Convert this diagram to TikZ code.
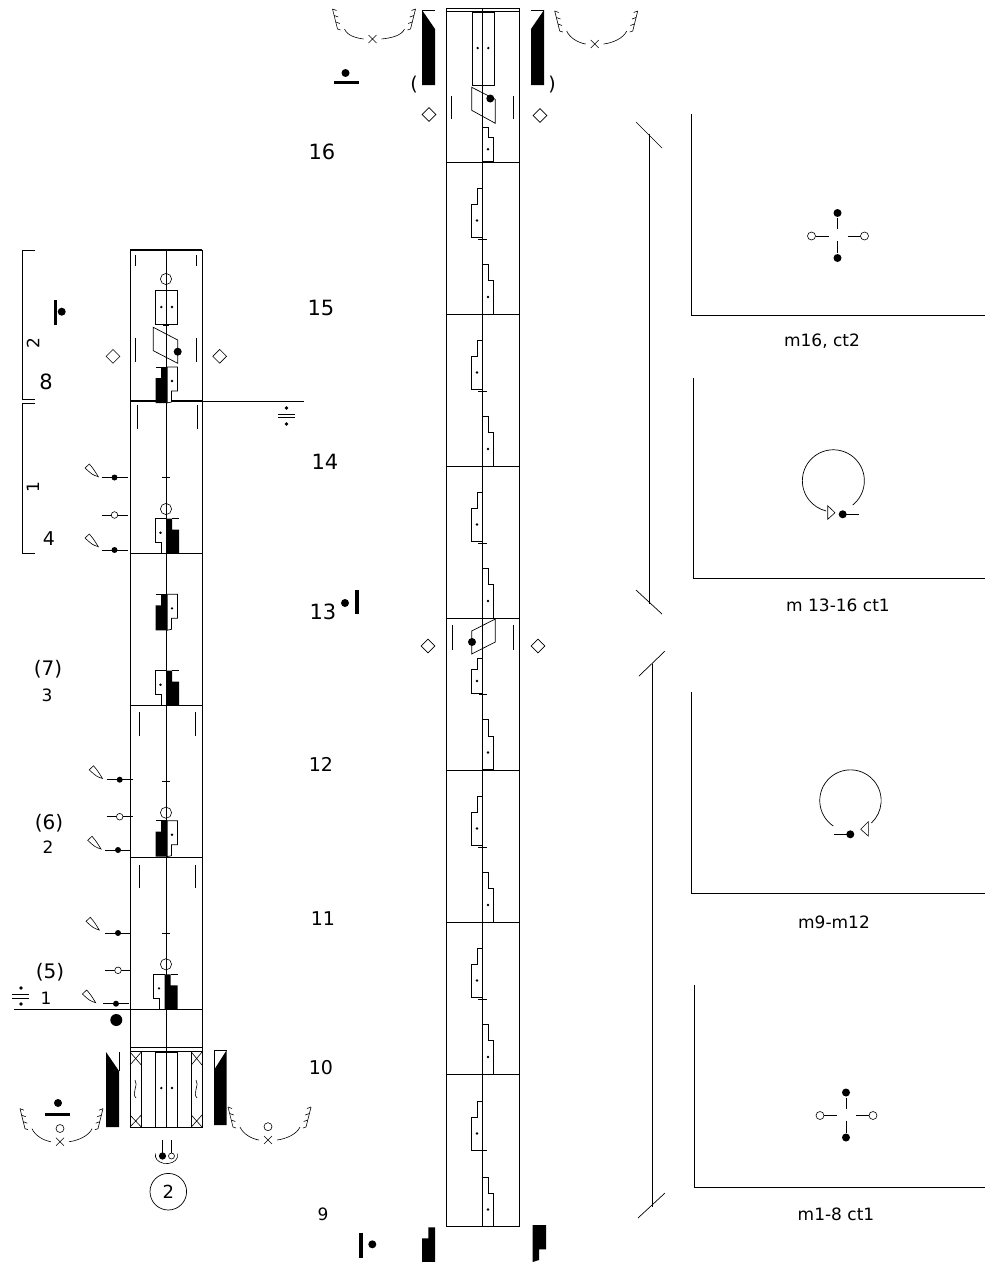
\documentclass[tikz,border=0pt]{standalone}
\usepackage{fontspec}
\setmainfont{DejaVu Sans}
\usetikzlibrary{shapes.geometric}
\tikzstyle{barnum} = [
    font=\fontsize{21}{21}\selectfont,
    yshift=-1pt,
    inner sep=0pt
]
\tikzstyle{smallnum} = [
    font=\fontsize{19}{19}\selectfont,
    yshift=-1pt,
    inner sep=0pt
]
\tikzstyle{beatnum} = [
    font=\fontsize{20}{20}\selectfont,
    yshift=-1pt,
    inner sep=0pt
]
\tikzstyle{countnum} = [
    font=\fontsize{17}{17}\selectfont,
    yshift=-1pt,
    inner sep=0pt
]
\tikzstyle{caption} = [
    font=\fontsize{17}{17}\selectfont,
    yshift=-1pt,
    inner sep=0pt
]
\tikzstyle{gem} = [
    diamond,
    draw=black,
    line width=0.6pt,
    minimum width=14pt,
    minimum height=14pt,
    inner sep=0pt
]
\tikzstyle{staff} = [line width=0.9pt]
\tikzstyle{thin} = [line width=0.6pt]
\newcommand{\bdot}[3]{\fill ({#1},{#2}) circle[radius=#3];}
\newcommand{\wdot}[3]{\draw[thin,fill=white] ({#1},{#2}) circle[radius=#3];}
\newcommand{\smalldot}[2]{\fill ({#1},{#2}) circle[radius=1.3];}
% white support symbols with a dot
\newcommand{\supL}[4]{
    \draw (#1,#2) -- ({#1-5.5},#2) -- ({#1-5.5},#3) -- ({#1-11},#3) -- ({#1-11},#4) -- (#1,#4);
    \smalldot{#1-5.5}{(#3+#4)/2}
}
\newcommand{\supR}[4]{
    \draw (#1,#2) -- ({#1+5.5},#2) -- ({#1+5.5},#3) -- ({#1+11},#3) -- ({#1+11},#4) -- (#1,#4) -- cycle;
    \smalldot{#1+5.5}{(#3+#4)/2}
}
% black left, white right
\newcommand{\pairA}[2]{
    \draw[fill=white] (#1,#2) -- ({#1+11},#2) -- ({#1+11},{#2+24}) -- ({#1+5},{#2+24}) -- ({#1+5},{#2+35}) -- (#1,{#2+36});
    \fill ({#1-11},{#2+11}) -- ({#1-5.5},{#2+11}) -- ({#1-5.5},#2) -- ({#1+1},#2) -- ({#1+1},{#2+36}) -- ({#1-11},{#2+36}) -- cycle;
    \draw[thin] ({#1-11},#2) -- (#1,#2);
    \smalldot{#1+5.5}{#2+14}
}
% white left, black right
\newcommand{\pairB}[2]{
    \draw[fill=white] (#1,#2) -- ({#1-11},#2) -- ({#1-11},{#2+24}) -- ({#1-5},{#2+24}) -- ({#1-5},{#2+35});
    \fill (#1,#2) -- ({#1+6},#2) -- ({#1+6},{#2+11}) -- ({#1+13},{#2+11}) -- ({#1+13},{#2+35}) -- (#1,{#2+35}) -- cycle;
    \draw[thin] ({#1+6},#2) -- ({#1+13},#2);
    \smalldot{#1-5.5}{#2+14}
}
\newcommand{\handwedge}[2]{
    \draw[thin] (#1,#2) .. controls ({#1-6},{#2-2}) .. ({#1-13.3},{#2-8.7}) -- ({#1-9},{#2-12.7}) .. controls ({#1-5},{#2-8}) .. cycle;
}
\newcommand{\pinrow}[2]{\draw[thin] ({#1-13},#2) -- ({#1+13},#2);}
\newcommand{\limbticks}[4]{
    \draw[thin] (#1,#2) -- (#1,#3);
    \draw[thin] (#4,#2) -- (#4,#3);
}
% curved floor hook with a cross
\newcommand{\leghook}[3]{
    \draw[thin] ({#1-4},{#2-4}) -- ({#1+4},{#2+4}) ({#1-4},{#2+4}) -- ({#1+4},{#2-4});
    \draw[thin] ({#1-28},{#2-10-#3}) .. controls ({#1-25},{#2-3-#3}) and ({#1-16},{#2-1}) .. ({#1-9},{#2});
    \draw[thin] ({#1+9},{#2}) .. controls ({#1+18},{#2-1}) and ({#1+29},{#2-3-#3}) .. ({#1+32},{#2-10-#3});
    \draw[thin] ({#1-40},{#2-30-#3}) -- ({#1-35},{#2-10-#3});
    \draw[thin] ({#1-40},{#2-30-#3}) -- ({#1-36},{#2-28.5-#3})
        ({#1-38.3},{#2-23.5-#3}) -- ({#1-34.3},{#2-22-#3})
        ({#1-36.7},{#2-17-#3}) -- ({#1-32.7},{#2-15.5-#3})
        ({#1-35},{#2-10-#3}) -- ({#1-32},{#2-9-#3});
    \draw[thin] ({#1+43},{#2-30-#3}) -- ({#1+38},{#2-10-#3});
    \draw[thin] ({#1+43},{#2-30-#3}) -- ({#1+39},{#2-28.5-#3})
        ({#1+41.3},{#2-23.5-#3}) -- ({#1+37.3},{#2-22-#3})
        ({#1+39.7},{#2-17-#3}) -- ({#1+35.7},{#2-15.5-#3})
        ({#1+38},{#2-10-#3}) -- ({#1+35},{#2-9-#3});
}
\newcommand{\fourpins}[2]{
    \draw[thin] (#1,{#2-18}) -- (#1,{#2-7}) (#1,{#2+5}) -- (#1,{#2+17});
    \draw[thin] ({#1-22},#2) -- ({#1-9},#2) ({#1+10},#2) -- ({#1+23},#2);
    \bdot{#1}{#2-23}{4}
    \bdot{#1}{#2+22}{4}
    \wdot{#1-26}{#2}{4}
    \wdot{#1+27}{#2}{4}
}

\begin{document}
\begin{tikzpicture}[x=1pt,y=-1pt,line width=0.7pt]
\useasboundingbox (0,0) rectangle (985,1262);

% left staff
\draw [staff] (130,250) rectangle (202,1127);
\draw [staff] (166,250) -- (166,1127);
\draw [line width=1.2pt] (130,250) -- (202,250);
\draw [line width=1.2pt] (130,401) -- (202,401);
\draw [thin] (202,401) -- (304,401);
\draw [staff] (130,553) -- (202,553);
\draw [staff] (130,705) -- (202,705);
\draw [staff] (130,857) -- (202,857);
\draw [staff] (14,1009) -- (202,1009);
\draw [staff] (130,1047) -- (202,1047);
\draw [staff] (130,1051) -- (202,1051);

% measure 8
\limbticks{135.7}{255}{266}{196.7}
\limbticks{135.7}{338}{362}{196.7}
\draw [thin] (166,279) circle[radius=5.6];
\draw (155.3,290) rectangle (177.7,324.3);
\smalldot{161.3}{307}
\smalldot{172}{307}
\draw [line width=1.4pt] (163,325) -- (169,325);
\draw (153.3,327.3) -- (177.7,340) -- (177.7,363.3) -- (153.3,350.7) -- cycle;
\bdot{177.7}{351.7}{4}
\node (gemA) [gem] at (113,356.3) {};
\node (gemB) [gem] at (219.7,356.3) {};
\pairA{166.5}{367}

% measure 1..4 of left staff
\limbticks{137.3}{405}{429}{197}
\handwedge{98.3}{476.7}
\pinrow{114.5}{477.5}
\bdot{114.5}{477.5}{3}
\pinrow{114.5}{515}
\wdot{114.5}{515}{3.3}
\handwedge{98.3}{546.7}
\pinrow{114.5}{550}
\bdot{114.5}{550}{3}
\draw [thin] (162,477.5) -- (170,477.5);
\draw [thin] (166,509) circle[radius=5.6];
\pairB{166}{518.7}

\pairA{166.5}{594.3}
\pairB{166}{670.7}

\limbticks{139}{712}{736}{195.3}
\handwedge{102.5}{778.5}
\pinrow{119.7}{779.7}
\bdot{119.7}{779.7}{3}
\pinrow{119.7}{816.7}
\wdot{119.7}{816.7}{3.3}
\handwedge{101}{849}
\pinrow{118}{850}
\bdot{118}{850}{3}
\draw [thin] (162,781) -- (170,781);
\draw [thin] (166,812.7) circle[radius=5.6];
\pairA{166.5}{820.7}

\limbticks{139}{865}{888}{195.3}
\handwedge{99.3}{930}
\pinrow{118}{933}
\bdot{118}{933}{3}
\pinrow{118}{970.3}
\wdot{118}{970.3}{3.3}
\handwedge{95.7}{1002.7}
\pinrow{116}{1003.7}
\bdot{116}{1003.7}{3}
\draw [thin] (162,933) -- (170,933);
\draw [thin] (166,964.3) circle[radius=5.6];
\pairB{164.5}{974.3}
\bdot{116.3}{1020}{6}

% start of left staff
\draw (155.3,1052.5) rectangle (177.7,1127);
\smalldot{161.3}{1088}
\smalldot{172}{1088}
\draw (141.3,1052) -- (141.3,1127);
\draw (191.3,1052) -- (191.3,1127);
\draw [thin] (130,1052) -- (141.3,1065) (141.3,1052) -- (130,1065);
\draw [thin] (130,1115) -- (141.3,1127) (141.3,1115) -- (130,1127);
\draw [thin] (191.3,1052) -- (202,1065) (202,1052) -- (191.3,1065);
\draw [thin] (191.3,1115) -- (202,1127) (202,1115) -- (191.3,1127);
\draw [thin] (135,1080) .. controls (139,1085) and (131,1093) .. (136,1098);
\draw [thin] (196,1080) .. controls (200,1085) and (192,1093) .. (197,1098);
\fill (106,1052) -- (119,1071) -- (119,1127) -- (106,1127) -- cycle;
\fill (226.7,1050) -- (226.7,1125) -- (214,1125) -- (214,1070) -- cycle;
\draw [thin] (214,1070) -- (214,1050) -- (226.7,1050);
\draw [thin] (119,1071) -- (119,1052);
\leghook{60}{1141.7}{3}
\wdot{60}{1128.5}{4}
\draw [line width=3pt] (45,1114.5) -- (70,1114.5);
\bdot{58}{1103}{4}
\leghook{268}{1140}{3}
\wdot{268}{1126.7}{4}
\draw [thin] (162.5,1140) -- (162.5,1153) (171.5,1140) -- (171.5,1153);
\draw [thin] (155.7,1153.5) arc[start angle=195, end angle=-15, x radius=11.2, y radius=8];
\bdot{162.5}{1156}{3.6}
\wdot{171.5}{1156}{3}
\node (num2) [circle, draw=black, line width=0.7pt, minimum size=36.6pt, inner sep=0pt, font=\fontsize{18}{18}\selectfont] at (168.3,1191.7) {2};

% brackets of the left staff
\draw (35,250) -- (22,250) -- (22,399) -- (35,399);
\draw (35,403) -- (22,403) -- (22,553) -- (35,553);
\node (brtwo) [countnum, rotate=90] at (33,342) {2};
\node (brone) [countnum, rotate=90] at (33,486) {1};
\node (ct8) [barnum] at (46,381) {8};
\node (ct4) [smallnum] at (49,538) {4};
\node (ct7) [beatnum] at (48,668) {(7)};
\node (ct3) [countnum] at (47,694) {3};
\node (ct6) [beatnum] at (49,822) {(6)};
\node (ct2) [countnum] at (48,846) {2};
\node (ct5) [beatnum] at (50,971) {(5)};
\node (ct1) [countnum] at (46,997) {1};

% rests
\draw [line width=3.6pt] (55.5,300) -- (55.5,325);
\bdot{61.7}{311.7}{4}
\draw [thin] (278,414) -- (295,414) (278,417.7) -- (295,417.7);
\bdot{286.5}{408}{1.8}
\bdot{286.5}{424}{1.8}
\draw [thin] (12,994) -- (29,994) (12,998) -- (29,998);
\bdot{21}{988}{1.8}
\bdot{21}{1004}{1.8}

% measure numbers
\node (m16) [barnum] at (322,151) {16};
\node (m15) [barnum] at (321,307) {15};
\node (m14) [barnum] at (325,461) {14};
\node (m13) [barnum] at (323,611) {13};
\node (m12) [smallnum] at (321,763) {12};
\node (m11) [smallnum] at (323,918) {11};
\node (m10) [smallnum] at (321,1067) {10};
\node (m9) [countnum] at (323,1213) {9};
\bdot{345}{603}{4}
\draw [line width=3.6pt] (357,590) -- (357,614);

% middle staff
\draw [staff] (446,8) rectangle (519,1226);
\draw [staff] (482.5,8) -- (482.5,1226);
\draw [staff] (446,11) -- (519,11);
\draw [staff] (446,162) -- (519,162);
\draw [staff] (446,314) -- (519,314);
\draw [staff] (446,466) -- (519,466);
\draw [staff] (446,618) -- (519,618);
\draw [staff] (446,770) -- (519,770);
\draw [staff] (446,922) -- (519,922);
\draw [staff] (446,1074) -- (519,1074);

% measure 16
\draw (472.3,12.7) rectangle (494,85.7);
\smalldot{477.7}{48}
\smalldot{488.3}{48}
\draw (471.7,87.3) -- (495.3,99.3) -- (495.3,123.3) -- (471.7,110.3) -- cycle;
\bdot{490.3}{98.5}{4}
\limbticks{451.7}{96}{119}{513}
\node (gemC) [gem] at (429,114.5) {};
\node (gemD) [gem] at (540,115.5) {};
\supR{482.5}{127}{137}{161.5}
\node (parenL) [smallnum] at (414,84) {(};
\node (parenR) [smallnum] at (552,84) {)};

% repeated measures
\supL{482.5}{188}{204}{237}
\draw [thin] (478,239) -- (487,239);
\supR{482.5}{264}{280}{314}
\supL{482.5}{340}{356}{389}
\draw [thin] (478,391) -- (487,391);
\supR{482.5}{416}{432}{466}
\supL{482.5}{492}{508}{541}
\draw [thin] (478,543) -- (487,543);
\supR{482.5}{568}{584}{618}

% measure 12/13 boundary
\draw (471.7,631) -- (495.3,619) -- (495.3,642) -- (471.7,654) -- cycle;
\bdot{472}{642}{4}
\limbticks{452}{625}{650}{513}
\node (gemE) [gem] at (428,646) {};
\node (gemF) [gem] at (538,646) {};
\supL{482.5}{658}{669}{693}
\draw [thin] (479,694.5) -- (487,694.5);
\supR{482.5}{719}{736}{769}

\supL{482.5}{796}{812}{845}
\draw [thin] (478,847) -- (487,847);
\supR{482.5}{872}{888}{922}
\supL{482.5}{948}{964}{997}
\draw [thin] (478,999) -- (487,999);
\supR{482.5}{1024}{1040}{1074}
\supL{482.5}{1101}{1117}{1150}
\draw [thin] (478,1150) -- (487,1150);
\supR{482.5}{1177}{1193}{1226}

% black columns, top and bottom of middle staff
\fill (422,10) -- (435,29) -- (435,85) -- (422,85) -- cycle;
\draw [thin] (422,10) -- (435,10);
\fill (544,10) -- (544,85) -- (531,85) -- (531,29) -- cycle;
\draw [thin] (531,10) -- (544,10);
\leghook{372.5}{39}{0}
\leghook{594.7}{44}{3}
\bdot{345.5}{73}{4}
\draw [line width=3.2pt] (334,82.5) -- (359,82.5);
\fill (422,1238.3) -- (428.3,1238.3) -- (428.3,1227.3) -- (435,1227.3) -- (435,1262) -- (422,1262) -- cycle;
\fill (532.7,1225) -- (546,1225) -- (546,1249.3) -- (539,1249.3) -- (539,1260) -- (532.7,1262) -- cycle;
\draw [line width=3.6pt] (361,1232.7) -- (361,1258);
\bdot{372.3}{1244.3}{4}

% long brackets
\draw (649,134) -- (649,604);
\draw (636,122) -- (662,148);
\draw (636,590) -- (662,614);
\draw (652,664) -- (652,1207);
\draw (639,676) -- (665,651);
\draw (638,1218) -- (665,1193);

% floor plans
\draw (691,114) -- (691,315) -- (985,315);
\draw (693,378) -- (693,578) -- (985,578);
\draw (691,692) -- (691,893) -- (985,893);
\draw (694,985) -- (694,1187) -- (985,1187);
\fourpins{837.5}{236}
\fourpins{846}{1115.5}

\draw (852.7,505) arc[start angle=51.4, end angle=-256.5, radius=31];
\draw [thin] (827.7,505.7) -- (827.7,519.3) -- (835,512.7) -- cycle;
\bdot{842.7}{514.3}{4}
\draw [thin] (842.7,514.3) -- (859,514.3);

\draw (833.3,826) arc[start angle=-236, end angle=47, radius=30.7];
\draw [thin] (868.3,821.7) -- (868.3,836) -- (860.7,829.3) -- cycle;
\bdot{850.3}{834.3}{4}
\draw [thin] (834,834.3) -- (850.3,834.3);

\node (capA) [caption] at (822,340) {m16, ct2};
\node (capB) [caption] at (838,604) {m 13-16 ct1};
\node (capC) [caption] at (834,921) {m9-m12};
\node (capD) [caption] at (836,1213) {m1-8 ct1};

\end{tikzpicture}
\end{document}
